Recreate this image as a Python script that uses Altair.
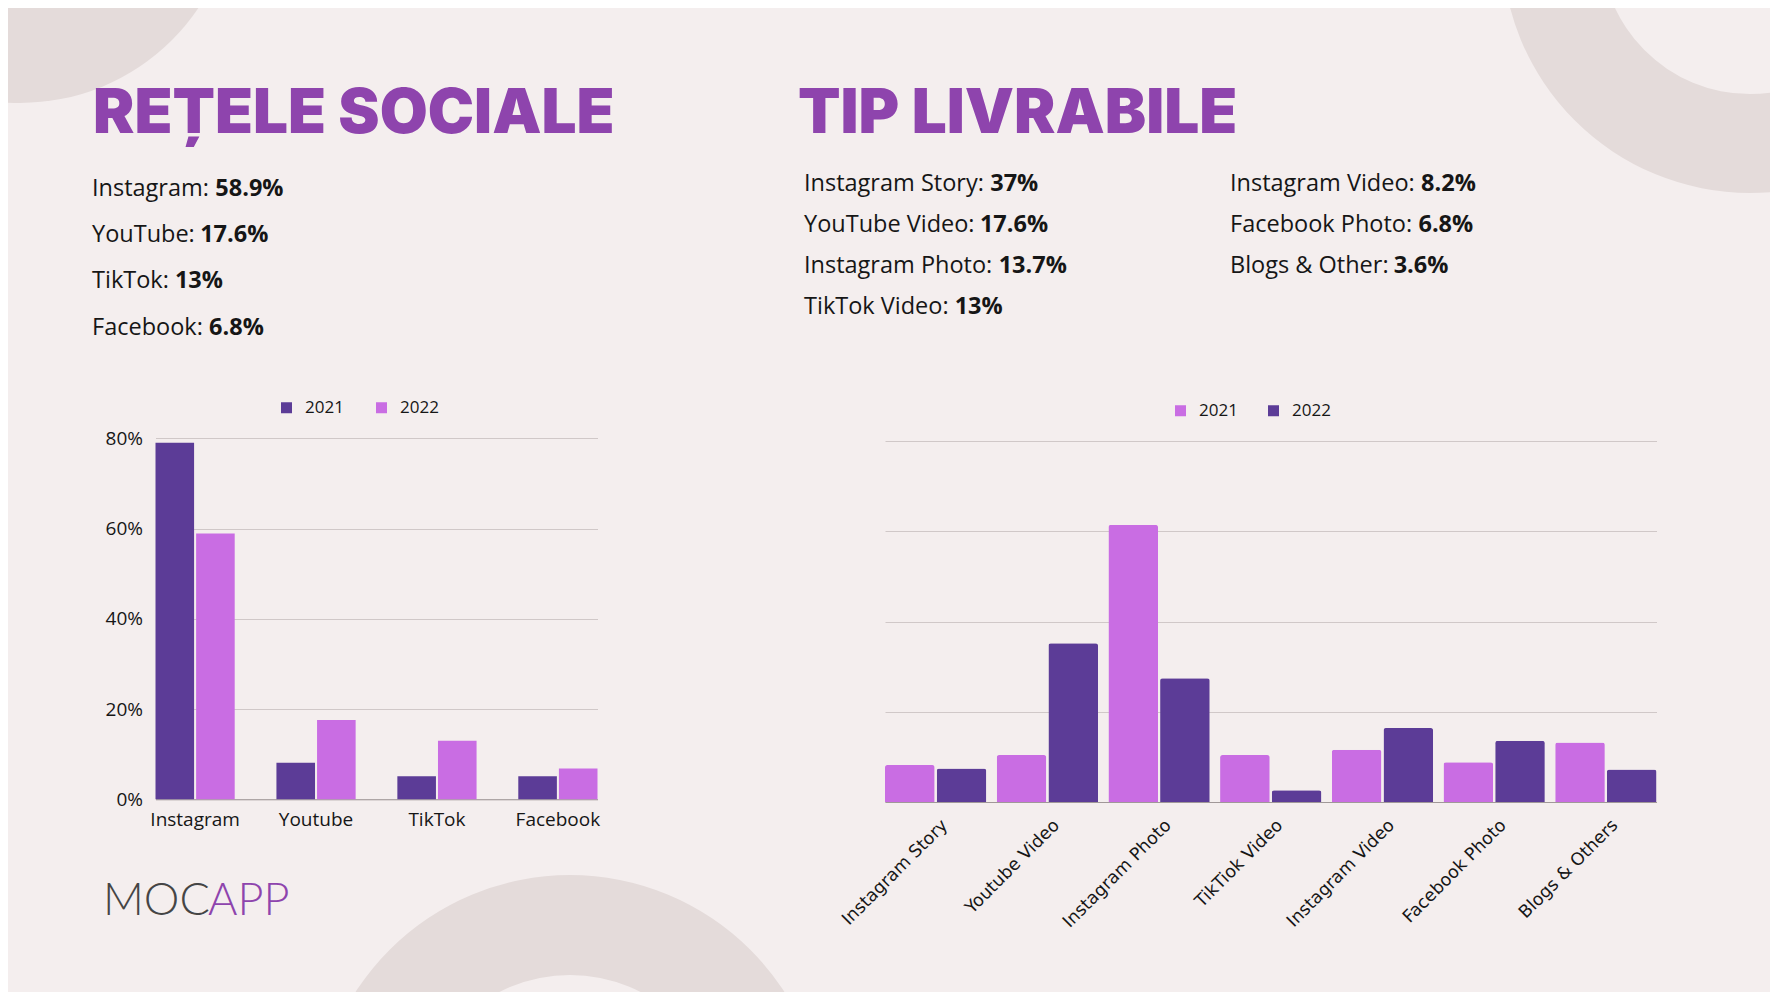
import altair as alt
import pandas as pd

# ---------------- data ----------------
social_categories = ["Instagram", "Youtube", "TikTok", "Facebook"]
social_2021 = [79.0, 8.1, 5.1, 5.1]
social_2022 = [58.9, 17.6, 13.0, 6.8]
social_ticks = [0, 20, 40, 60, 80]

deliv_categories = ["Instagram Story", "Youtube Video", "Instagram Photo", "TikTiok Video",
                    "Instagram Video", "Facebook Photo", "Blogs & Others"]
deliv_2021 = [4.1, 5.2, 30.7, 5.2, 5.8, 4.4, 6.6]
deliv_2022 = [3.7, 17.6, 13.7, 1.3, 8.2, 6.8, 3.6]
deliv_ticks = [0, 10, 20, 30, 40]

years = ["2021", "2022"]

social_title = "REȚELE SOCIALE"
social_list_labels = ["Instagram: ", "YouTube: ", "TikTok: ", "Facebook: "]
social_list_values = ["58.9%", "17.6%", "13%", "6.8%"]

deliv_title = "TIP LIVRABILE"
deliv_list1_labels = ["Instagram Story: ", "YouTube Video: ", "Instagram Photo: ", "TikTok Video: "]
deliv_list1_values = ["37%", "17.6%", "13.7%", "13%"]
deliv_list2_labels = ["Instagram Video: ", "Facebook Photo: ", "Blogs & Other: "]
deliv_list2_values = ["8.2%", "6.8%", "3.6%"]

logo_parts = ["MOC", "APP"]

# ---------------- style ----------------
W, H = 1762, 984
BG = "#F4EEEE"
RING = "#E4DBDA"
DARK = "#5C3C97"
LIGHT = "#C96DE3"
TITLE = "#8E44AD"
GRID = "#D0C8C8"
BASE = "#A09898"
INK = "#161616"
SANS = "Open Sans"
HEAD = "Inter"

OPEN_SANS_W = {
    'I': 0.279, 'n': 0.614, 's': 0.477, 't': 0.353, 'a': 0.556, 'g': 0.548, 'r': 0.408,
    'm': 0.930, ':': 0.266, ' ': 0.260, 'Y': 0.522, 'o': 0.604, 'u': 0.614, 'T': 0.548,
    'b': 0.613, 'e': 0.561, 'i': 0.253, 'k': 0.525, 'F': 0.519, 'c': 0.476, 'V': 0.592,
    'd': 0.613, 'S': 0.550, 'y': 0.501, 'P': 0.600, 'h': 0.614, 'l': 0.253, 'B': 0.638,
    '&': 0.681, 'O': 0.781,
}


def text_width(s, size):
    return sum(OPEN_SANS_W.get(c, 0.56) for c in s) * size


def text_layer(s, x, y, size, color=INK, weight="normal", font=SANS, align="left"):
    return alt.Chart(pd.DataFrame({"t": [s]})).mark_text(
        align=align, baseline="alphabetic", font=font, fontSize=size,
        fontWeight=weight, color=color
    ).encode(text=alt.Text("t:N"), x=alt.value(x), y=alt.value(y))


def ring_layer(cx, cy, r_in, r_out):
    return alt.Chart(pd.DataFrame({"k": [0]})).mark_arc(
        innerRadius=r_in, outerRadius=r_out, theta=0, theta2=6.2832, color=RING
    ).encode(x=alt.value(cx), y=alt.value(cy))


def list_layers(labels, values, x, y0, step, size):
    out = []
    for i, (lab, val) in enumerate(zip(labels, values)):
        y = y0 + i * step
        out.append(text_layer(lab, x, y, size))
        out.append(text_layer(val, x + text_width(lab, size), y, size, weight="bold"))
    return out


# ---------------- background decorations ----------------
decor = [
    ring_layer(12, -120, 0, 215),
    ring_layer(1742, -63, 149, 248),
    ring_layer(562, 1122, 155, 255),
]

# ---------------- headings & lists ----------------
LIST_SIZE = 23.5
texts = [
    text_layer(social_title, 85, 125, 62, color=TITLE, weight=900, font=HEAD),
    text_layer(deliv_title, 790, 125, 62, color=TITLE, weight=900, font=HEAD),
]
texts += list_layers(social_list_labels, social_list_values, 84, 188, 46.2, LIST_SIZE)
texts += list_layers(deliv_list1_labels, deliv_list1_values, 796, 182.5, 41.0, LIST_SIZE)
texts += list_layers(deliv_list2_labels, deliv_list2_values, 1222, 182.5, 41.0, LIST_SIZE)
texts += [
    text_layer(logo_parts[0], 95, 907, 45, color="#454545", weight=300, font="Lato"),
    text_layer(logo_parts[1], 200, 907, 45, color=TITLE, weight=300, font="Lato"),
]

# ---------------- left bar chart: social networks ----------------
social_df = pd.DataFrame({
    "platform": social_categories * 2,
    "year": [years[0]] * len(social_categories) + [years[1]] * len(social_categories),
    "share": social_2021 + social_2022,
})

left_bars = alt.Chart(social_df).mark_bar().encode(
    x=alt.X("platform:N", sort=social_categories,
            scale=alt.Scale(range=[147.5, 589.5], paddingInner=0.345, paddingOuter=0),
            axis=alt.Axis(orient="bottom", offset=-192.7, title=None, labelAngle=0,
                          domain=True, domainColor=BASE, domainWidth=1, ticks=False,
                          labelPadding=11, labelFont=SANS, labelFontSize=19,
                          labelColor=INK, grid=False)),
    xOffset=alt.XOffset("year:N", sort=years,
                        scale=alt.Scale(paddingInner=0.05, paddingOuter=0)),
    y=alt.Y("share:Q",
            scale=alt.Scale(domain=[0, 80], range=[791.3, 430.3], nice=False, zero=True),
            axis=alt.Axis(orient="left", offset=-147.5, title=None, values=social_ticks,
                          labelExpr="datum.value + '%'", grid=True, gridColor=GRID,
                          gridWidth=1, domain=False, ticks=False, labelPadding=13,
                          labelFont=SANS, labelFontSize=19, labelColor=INK)),
    color=alt.Color("year:N", sort=years,
                    scale=alt.Scale(domain=years, range=[DARK, LIGHT]),
                    legend=alt.Legend(orient="none", legendX=270, legendY=391,
                                      direction="horizontal", title=None,
                                      symbolType="square", symbolSize=121,
                                      symbolStrokeWidth=0, labelFont=SANS,
                                      labelFontSize=17, labelColor=INK,
                                      labelOffset=10, columnPadding=29)),
)

# ---------------- right bar chart: deliverable types ----------------
deliv_df = pd.DataFrame({
    "type": deliv_categories * 2,
    "year": [years[0]] * len(deliv_categories) + [years[1]] * len(deliv_categories),
    "share": deliv_2021 + deliv_2022,
})

right_bars = alt.Chart(deliv_df).mark_bar(cornerRadiusTopLeft=2.5, cornerRadiusTopRight=2.5).encode(
    x=alt.X("type:N", sort=deliv_categories,
            scale=alt.Scale(range=[877, 1648.5], paddingInner=0.093, paddingOuter=0),
            axis=alt.Axis(orient="bottom", offset=-190, title=None, labelAngle=315,
                          domain=True, domainColor=BASE, domainWidth=1, ticks=False,
                          labelPadding=14, labelOffset=3, labelFont="DejaVu Sans",
                          labelFontSize=17.5, labelColor=INK, grid=False)),
    xOffset=alt.XOffset("year:N", sort=years,
                        scale=alt.Scale(paddingInner=0.04, paddingOuter=0)),
    y=alt.Y("share:Q",
            scale=alt.Scale(domain=[0, 40], range=[794, 433], nice=False, zero=True),
            axis=alt.Axis(orient="left", offset=-877, title=None, values=deliv_ticks,
                          labels=False, grid=True, gridColor=GRID, gridWidth=1,
                          domain=False, ticks=False)),
    color=alt.Color("year:N", sort=years,
                    scale=alt.Scale(domain=years, range=[LIGHT, DARK]),
                    legend=alt.Legend(orient="none", legendX=1164, legendY=394,
                                      direction="horizontal", title=None,
                                      symbolType="square", symbolSize=121,
                                      symbolStrokeWidth=0, labelFont=SANS,
                                      labelFontSize=17, labelColor=INK,
                                      labelOffset=10, columnPadding=27)),
)

chart = alt.layer(*decor, *texts, left_bars, right_bars).resolve_scale(
    x="independent", y="independent", color="independent", xOffset="independent"
).resolve_axis(
    x="independent", y="independent"
).resolve_legend(
    color="independent"
).properties(
    width=W, height=H,
    autosize=alt.AutoSizeParams(type="none"),
    padding=0,
    background=BG,
).configure_view(stroke=None)

chart.save("out.html", embed_options={"renderer": "svg", "actions": False})
